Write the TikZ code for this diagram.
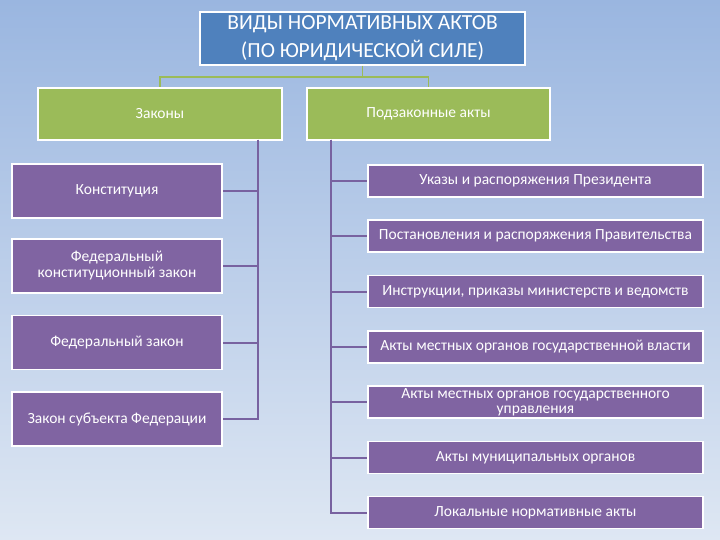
\documentclass[tikz,border=0pt]{standalone}
\usepackage{fontspec}
\setmainfont{Carlito}
\usepackage{tikz}
\usetikzlibrary{positioning,calc}
\usepackage{xcolor}
\definecolor{titleblue}{RGB}{79,129,189}
\definecolor{lawgreen}{RGB}{155,187,89}
\definecolor{actpurple}{RGB}{128,100,162}
\definecolor{spinepurple}{RGB}{120,98,160}
\definecolor{bgtop}{RGB}{154,182,224}
\definecolor{bgbottom}{RGB}{222,231,243}

\begin{document}
\begin{tikzpicture}[
  x=1pt,y=-1pt,
  titlebox/.style={draw=white,line width=1.5pt,fill=titleblue,text=white,align=center,font=\fontsize{21.5}{28}\selectfont,minimum width=325pt,minimum height=53pt,inner sep=0pt},
  lawbox/.style={draw=white,line width=1.5pt,fill=lawgreen,text=white,font=\fontsize{15.5}{17}\selectfont,minimum width=244pt,minimum height=52pt,inner sep=2pt},
  leftbox/.style={draw=white,line width=1.5pt,fill=actpurple,text=white,align=center,font=\fontsize{15.5}{16}\selectfont,minimum width=210pt,minimum height=54pt,inner sep=2pt},
  rightbox/.style={draw=white,line width=1.5pt,fill=actpurple,text=white,align=center,font=\fontsize{15.5}{15}\selectfont,minimum width=335pt,minimum height=32pt,inner sep=0.5pt},
  grn/.style={draw=lawgreen,line width=1.8pt},
  spine/.style={draw=spinepurple,line width=2pt}
]
% background
\shade[top color=bgtop,bottom color=bgbottom] (0,0) rectangle (720,540);
\useasboundingbox (0,0) rectangle (720,540);

% title
\node[titlebox] (title) at (362.5,38.5) {ВИДЫ НОРМАТИВНЫХ АКТОВ\\(ПО ЮРИДИЧЕСКОЙ СИЛЕ)};

% second level
\node[lawbox] (laws) at (160,114)   {Законы};
\node[lawbox,minimum width=243pt] (sublaws) at (428.5,114) {Подзаконные акты};

\coordinate (tj) at ($(title.south)+(0,11)$);
\draw[grn] (title.south) -- (tj);
\draw[grn] (tj) -| (laws.north);
\draw[grn] (tj) -| (sublaws.north);

% laws (left column)
\node[leftbox] (l1) at (117,191)   {Конституция};
\node[leftbox] (l2) at (117,266)   {Федеральный\\конституционный закон};
\node[leftbox] (l3) at (117,342.5) {Федеральный закон};
\node[leftbox] (l4) at (117,419)   {Закон субъекта Федерации};

\coordinate (lspine) at (258,140);
\foreach \n in {l1,l2,l3,l4}
  \draw[spine] (lspine) |- (\n.east);

% by-laws (right column)
\node[rightbox] (r1) at (535.5,181)   {Указы и распоряжения Президента};
\node[rightbox] (r2) at (535.5,236)   {Постановления и распоряжения Правительства};
\node[rightbox] (r3) at (535.5,291.5) {Инструкции, приказы министерств и ведомств};
\node[rightbox] (r4) at (535.5,347)   {Акты местных органов государственной власти};
\node[rightbox] (r5) at (535.5,402)   {Акты местных органов государственного\\управления};
\node[rightbox] (r6) at (535.5,457.5) {Акты муниципальных органов};
\node[rightbox] (r7) at (535.5,512.5) {Локальные нормативные акты};

\coordinate (rspine) at (331,140);
\foreach \n in {r1,r2,r3,r4,r5,r6,r7}
  \draw[spine] (rspine) |- (\n.west);
\end{tikzpicture}
\end{document}
